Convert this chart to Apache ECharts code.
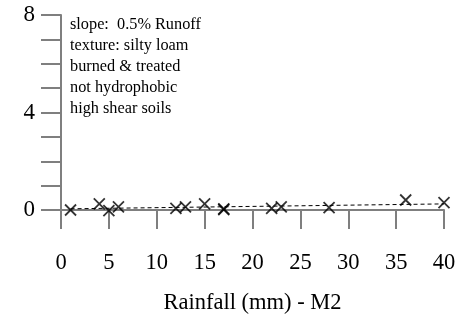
<!DOCTYPE html>
<html>
<head>
<meta charset="utf-8">
<script src="https://cdn.jsdelivr.net/npm/echarts@6/dist/echarts.min.js"></script>
<style>
  html, body { margin: 0; padding: 0; background: #fff; }
  #chart { width: 463px; height: 321px; }
</style>
</head>
<body>
<div id="chart"></div>
<script>
// Observed runoff for each rainfall event (mm)
const rainfall = [1, 4, 5, 6, 12, 13, 15, 17, 17, 22, 23, 28, 36, 40];
const runoff   = [0.0, 0.25, -0.03, 0.13, 0.07, 0.13, 0.25, 0.02, 0.05, 0.07, 0.13, 0.1, 0.41, 0.3];

// Fitted trend line end points
const trendX = [1, 40];
const trendY = [0.05, 0.25];

const xTicks = [0, 5, 10, 15, 20, 25, 30, 35, 40];
const yTickLabels = [0, 4, 8];

const notes = [
  'slope:  0.5% Runoff',
  'texture: silty loam',
  'burned & treated',
  'not hydrophobic',
  'high shear soils'
];

const serif = '"Liberation Serif", "Times New Roman", serif';
const axisGray = '#7f7f7f';

const chart = echarts.init(document.getElementById('chart'), null, { renderer: 'canvas' });

chart.setOption({
  animation: false,
  backgroundColor: '#fff',
  title: {
    text: notes.join('\n'),
    left: 70,
    top: 14,
    padding: 0,
    textStyle: {
      fontFamily: serif,
      fontSize: 16.3,
      fontWeight: 'normal',
      color: '#000',
      lineHeight: 21
    }
  },
  grid: { left: 61, right: 19, top: 15, bottom: 111, containLabel: false },
  xAxis: {
    type: 'value',
    min: 0,
    max: 40,
    interval: 5,
    name: 'Rainfall (mm) - M2',
    nameLocation: 'middle',
    nameGap: 82,
    nameTextStyle: { fontFamily: serif, fontSize: 22.5, color: '#000' },
    axisLine: { show: true, onZero: false, lineStyle: { color: axisGray, width: 2 } },
    axisTick: { show: true, length: 19, lineStyle: { color: axisGray, width: 2 } },
    axisLabel: {
      margin: 42,
      fontFamily: serif,
      fontSize: 22.5,
      color: '#000',
      formatter: v => (xTicks.includes(v) ? String(v) : '')
    },
    splitLine: { show: false }
  },
  yAxis: {
    type: 'value',
    min: 0,
    max: 8,
    interval: 1,
    axisLine: { show: true, onZero: false, lineStyle: { color: axisGray, width: 2 } },
    axisTick: { show: true, length: 20, lineStyle: { color: axisGray, width: 2 } },
    axisLabel: {
      margin: 26,
      fontFamily: serif,
      fontSize: 23,
      color: '#000',
      formatter: v => (yTickLabels.includes(v) ? String(v) : '')
    },
    splitLine: { show: false }
  },
  series: [
    {
      type: 'line',
      data: trendX.map((x, i) => [x, trendY[i]]),
      symbol: 'none',
      clip: false,
      lineStyle: { color: '#000', width: 1, type: [4, 3] },
      z: 2
    },
    {
      type: 'scatter',
      data: rainfall.map((x, i) => [x, runoff[i]]),
      symbol: 'path://M0,0L10,10M10,0L0,10',
      symbolSize: 11,
      clip: false,
      itemStyle: { color: 'none', borderColor: '#000', borderWidth: 1.8 },
      z: 3
    }
  ]
});
</script>
</body>
</html>
